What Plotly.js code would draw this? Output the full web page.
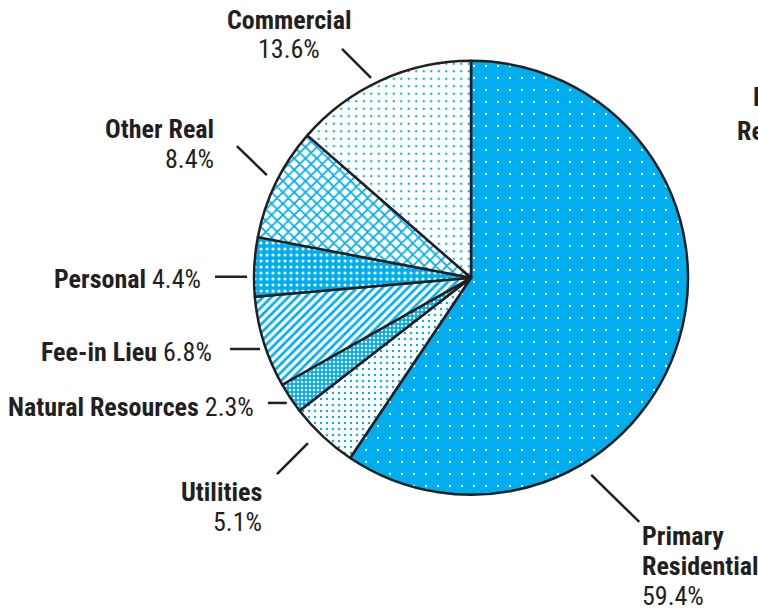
<!DOCTYPE html>
<html>
<head>
<meta charset="utf-8">
<script src="https://cdn.plot.ly/plotly-3.0.1.min.js"></script>
<style>
  html, body { margin: 0; padding: 0; background: #fff; }
  #chart { width: 758px; height: 615px; }
</style>
</head>
<body>
<div id="chart"></div>
<script>
// ---- data ----
const categories = ["Primary Residential", "Utilities", "Natural Resources", "Fee-in Lieu", "Personal", "Other Real", "Commercial"];
const labelNames = [["Primary", "Residential"], ["Utilities"], ["Natural Resources"], ["Fee-in Lieu"], ["Personal"], ["Other Real"], ["Commercial"]];
const shares = [59.4, 5.1, 2.3, 6.8, 4.4, 8.4, 13.6];

// ---- styles ----
const W = 758, H = 615;
const BLUE = "#00AEEF";
const INK = "#231F20";
const FONT = "Roboto Condensed, Liberation Sans Narrow, Arial Narrow, sans-serif";
const FS = 26;
const LINE_GAP = 30;

const cx = 471, cy = 277.8, R = 217;

const patShape = [".", ".", ".", "/", ".", "x", "."];
const patFg = ["#ffffff", BLUE, "#ffffff", BLUE, "#ffffff", BLUE, BLUE];
const patBg = [BLUE, "#ffffff", BLUE, "#ffffff", BLUE, "#ffffff", "#ffffff"];
const patSize = [12, 6, 4, 6, 6, 8, 7.5];
const patSolid = [0.028, 0.12, 0.3, 0.45, 0.22, 0.4, 0.08];

// leader line + label placement (per slice): fraction along slice, radial factor, line vector, label anchor
const leader = [
  { f: 0.695, r1: 1.064, v: [48, 47],  tx: 640, ty: 536, xa: "left",   value: "line3" },
  { f: 0.586, r1: 1.07,  v: [-31, 31], tx: 264, ty: 492, xa: "right",  value: "line2" },
  { f: 0.435, r1: 1.026, v: [-19, 0],  tx: 256, ty: 407, xa: "right",  value: "inline" },
  { f: 0.444, r1: 1.026, v: [-30, 0],  tx: 214, ty: 352, xa: "right",  value: "inline" },
  { f: 0.337, r1: 1.032, v: [-32, 0],  tx: 203, ty: 279, xa: "right",  value: "inline" },
  { f: 0.526, r1: 1.053, v: [-30, -29], tx: 216, ty: 129, xa: "right", value: "line2" },
  { f: 0.457, r1: 1.03,  v: [-29, -29], tx: 289, ty: 19.5, xa: "center", value: "line2" }
];

const px = x => x / W;
const py = y => 1 - y / H;

const total = shares.reduce((a, b) => a + b, 0);
const shapes = [];
const annotations = [];
let cum = 0;
shares.forEach((v, i) => {
  const L = leader[i];
  const ang = (cum + L.f * v) / total * 2 * Math.PI;
  cum += v;
  const x1 = cx + R * L.r1 * Math.sin(ang);
  const y1 = cy - R * L.r1 * Math.cos(ang);
  const x2 = x1 + L.v[0], y2 = y1 + L.v[1];
  shapes.push({ type: "line", xref: "paper", yref: "paper",
    x0: px(x1), y0: py(y1), x1: px(x2), y1: py(y2),
    line: { color: INK, width: 2.5 } });

  const pct = v.toFixed(1) + "%";
  let lines;
  const names = labelNames[i];
  if (L.value === "inline") {
    lines = ["<b>" + names[0] + "</b> " + pct];
  } else {
    lines = names.map(n => "<b>" + n + "</b>").concat([pct]);
  }
  lines.forEach((t, k) => {
    annotations.push({ xref: "paper", yref: "paper", x: px(L.tx), y: py(L.ty + k * LINE_GAP),
      xanchor: L.xa, yanchor: "middle", showarrow: false, text: t,
      font: { family: FONT, size: FS, color: INK } });
  });
});

// partially visible heading at the right edge (cut off in the reference too)
annotations.push({ xref: "paper", yref: "paper", x: px(751), y: py(97), xanchor: "left", yanchor: "middle",
  showarrow: false, text: "<b>Levy</b>", font: { family: FONT, size: FS, color: INK } });
annotations.push({ xref: "paper", yref: "paper", x: px(735), y: py(131), xanchor: "left", yanchor: "middle",
  showarrow: false, text: "<b>Revenue</b>", font: { family: FONT, size: FS, color: INK } });

const trace = {
  type: "pie",
  labels: categories,
  values: shares,
  sort: false,
  direction: "clockwise",
  rotation: 0,
  textinfo: "none",
  hoverinfo: "label+percent",
  domain: { x: [px(cx - R), px(cx + R)], y: [py(cy + R), py(cy - R)] },
  marker: {
    colors: patBg,
    line: { color: INK, width: 2.5 },
    pattern: { shape: patShape, fgcolor: patFg, bgcolor: patBg, size: patSize, solidity: patSolid, fillmode: "replace" }
  }
};

const layout = {
  width: W, height: H,
  margin: { l: 0, r: 0, t: 0, b: 0 },
  paper_bgcolor: "#ffffff",
  showlegend: false,
  shapes: shapes,
  annotations: annotations
};

Plotly.newPlot("chart", [trace], layout, { displayModeBar: false, staticPlot: true });
</script>
</body>
</html>
